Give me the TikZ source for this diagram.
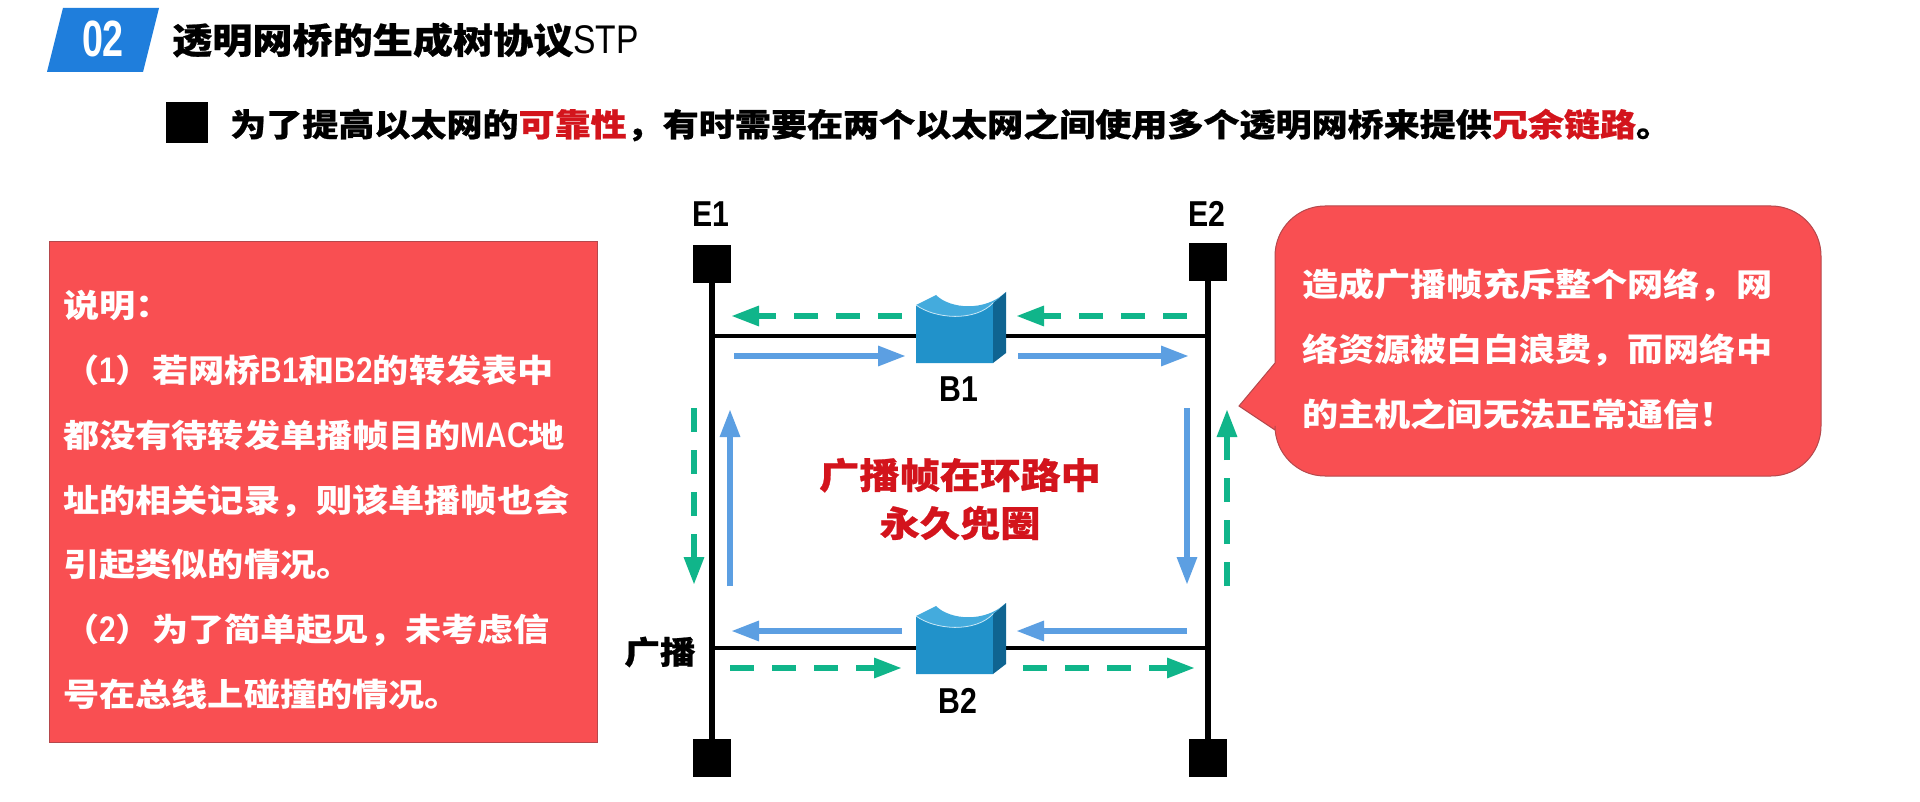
\documentclass[tikz,border=0pt]{standalone}
\usepackage{fontspec}
\usetikzlibrary{arrows.meta,calc}
\newfontfamily\cjkw[FakeStretch=1.13]{Noto Sans CJK SC}
\newfontfamily\cjkh[FakeStretch=1.13,FakeBold=0.7]{Noto Sans CJK SC}
\newfontfamily\latn[FakeStretch=0.84]{Liberation Sans}
\newfontfamily\latnn[FakeStretch=0.74]{Liberation Sans}
\newcommand{\ltn}[1]{{\latn\fontsize{35.5}{64.8}\selectfont #1}}
\definecolor{redbox}{HTML}{F94F52}
\definecolor{redline}{HTML}{B5484C}
\definecolor{redtext}{HTML}{D3141C}
\definecolor{arrowblue}{HTML}{5C9FE2}
\definecolor{arrowgreen}{HTML}{10B58A}
\definecolor{headblue}{HTML}{1F7EDC}
\definecolor{brfront}{HTML}{2192CA}
\definecolor{brtop}{HTML}{44ABDD}
\definecolor{brside}{HTML}{0F6491}
\tikzset{
  x=1pt,y=-1pt,
  sq/.style={fill=black,draw=none,inner sep=0,minimum width=38pt,minimum height=38pt},
  bus/.style={line width=6pt,black},
  hlink/.style={line width=4pt,black},
  blueflow/.style={line width=6pt,arrowblue,-{Triangle[length=28pt,width=19pt]}},
  greenflow/.style={line width=6pt,arrowgreen,dash pattern=on 24pt off 18pt,-{Triangle[length=28pt,width=19pt]}},
  lab/.style={inner sep=0,font=\latn\bfseries\fontsize{36}{38}\selectfont},
  whitetext/.style={inner sep=0,text=white,align=left,anchor=west,font=\cjkw\bfseries\fontsize{32}{64.8}\selectfont},
  bridgeport/.style={inner sep=0,minimum width=90pt,minimum height=8pt},
  bridge/.pic={
    \fill[brfront] (916,305) .. controls (935,319) and (975,322) .. (993,303) -- (993,363) -- (916,363) -- cycle;
    \fill[brside] (993,303) -- (1006,292) -- (1006,353) -- (993,363) -- cycle;
    \fill[brtop] (916,305) -- (936,295) .. controls (950,309) and (985,312) .. (1006,292) -- (993,303) .. controls (975,322) and (935,319) .. (916,305) -- cycle;
    \draw[white!70!brtop,line width=0.8pt] (916,305) .. controls (935,319) and (975,322) .. (993,303);
  }
}
\begin{document}
\begin{tikzpicture}
\useasboundingbox (0,0) rectangle (1920,802);
\fill[white] (0,0) rectangle (1920,802);
% header
\fill[headblue] (63,8) -- (159,8) -- (143,72) -- (47,72) -- cycle;
\node[inner sep=0,text=white,font=\latnn\bfseries\fontsize{51}{53}\selectfont] (num) at (103,39) {02};
\node[inner sep=0,anchor=west,font=\cjkh\bfseries\fontsize{35.5}{44}\selectfont] (title) at (172,40) {透明网桥的生成树协议{\latn\mdseries\fontsize{40}{44}\selectfont STP}};
\fill[black] (166,102) rectangle (208,143);
\node[inner sep=0,anchor=west,font=\cjkh\bfseries\fontsize{31.9}{36}\selectfont] (lead) at (230,125) {为了提高以太网的{\color{redtext}可靠性}，有时需要在两个以太网之间使用多个透明网桥来提供{\color{redtext}冗余链路}。};
% left note
\draw[fill=redbox,draw=redline,line width=1pt] (49,242) rectangle (597,742);
\node[whitetext] (note) at (63,500) {说明：\\（\ltn{1}）若网桥\ltn{B1}和\ltn{B2}的转发表中\\都没有待转发单播帧目的\ltn{MAC}地\\址的相关记录，则该单播帧也会\\引起类似的情况。\\（\ltn{2}）为了简单起见，未考虑信\\号在总线上碰撞的情况。};
% callout
\draw[fill=redbox,draw=redline,line width=1pt]
  (1325,206) -- (1771,206) arc[start angle=90,end angle=0,radius=50pt,y=1pt]
  -- (1821,426) arc[start angle=0,end angle=-90,radius=50pt]
  -- (1325,476) arc[start angle=-90,end angle=-180,radius=50pt]
  -- (1275,430) -- (1239,406) -- (1275,363) -- (1275,256) arc[start angle=180,end angle=90,radius=50pt] -- cycle;
\node[whitetext] (warn) at (1302,349) {造成广播帧充斥整个网络，网\\络资源被白白浪费，而网络中\\的主机之间无法正常通信！};
% buses
\node[sq] (e1t) at (712,264) {};
\node[sq] (e2t) at (1208,262) {};
\node[sq] (e1b) at (712,758) {};
\node[sq] (e2b) at (1208,758) {};
\draw[bus] (e1t) -- (e1b);
\draw[bus] (e2t) -- (e2b);
\node[lab] (le1) at (710.5,214) {E1};
\node[lab] (le2) at (1207,214) {E2};
% bridges
\node[bridgeport] (b1) at (961,336) {};
\node[bridgeport] (b2) at (961,648) {};
\draw[hlink] (e1t |- b1) -- (b1);
\draw[hlink] (b1) -- (e2t |- b1);
\draw[hlink] (e1t |- b2) -- (b2);
\draw[hlink] (b2) -- (e2t |- b2);
\pic {bridge};
\pic[yshift=-311pt] {bridge};
\node[lab] (lb1) at (958.5,389) {B1};
\node[lab] (lb2) at (958,701) {B2};
\node[inner sep=0,font=\cjkh\bfseries\fontsize{31.5}{36}\selectfont] (bc) at (660,652) {广播};
\node[inner sep=0,align=center,text=redtext,font=\cjkh\bfseries\fontsize{35.6}{48}\selectfont] (loop) at (960,499) {广播帧在环路中\\永久兜圈};
% flow end points
\coordinate (gA) at (902,316); \coordinate (gB) at (731,316);
\coordinate (gC) at (1187,316); \coordinate (gD) at (1016,316);
\coordinate (bA) at (734,356); \coordinate (bB) at (906,356);
\coordinate (bC) at (1018,356); \coordinate (bD) at (1189,356);
\coordinate (bE) at (902,631); \coordinate (bF) at (731,631);
\coordinate (bG) at (1187,631); \coordinate (bH) at (1016,631);
\coordinate (gE) at (730,668); \coordinate (gF) at (902,668);
\coordinate (gG) at (1023,668); \coordinate (gH) at (1195,668);
\coordinate (gI) at (694,408); \coordinate (gJ) at (694,585);
\coordinate (bI) at (730,586); \coordinate (bJ) at (730,409);
\coordinate (bK) at (1187,408); \coordinate (bL) at (1187,585);
\coordinate (gK) at (1227,586); \coordinate (gL) at (1227,409);
\draw[greenflow] (gA) -- (gB);
\draw[greenflow] (gC) -- (gD);
\draw[blueflow] (bA) -- (bB);
\draw[blueflow] (bC) -- (bD);
\draw[blueflow] (bE) -- (bF);
\draw[blueflow] (bG) -- (bH);
\draw[greenflow] (gE) -- (gF);
\draw[greenflow] (gG) -- (gH);
\draw[greenflow] (gI) -- (gJ);
\draw[blueflow] (bI) -- (bJ);
\draw[blueflow] (bK) -- (bL);
\draw[greenflow] (gK) -- (gL);
\end{tikzpicture}
\end{document}
